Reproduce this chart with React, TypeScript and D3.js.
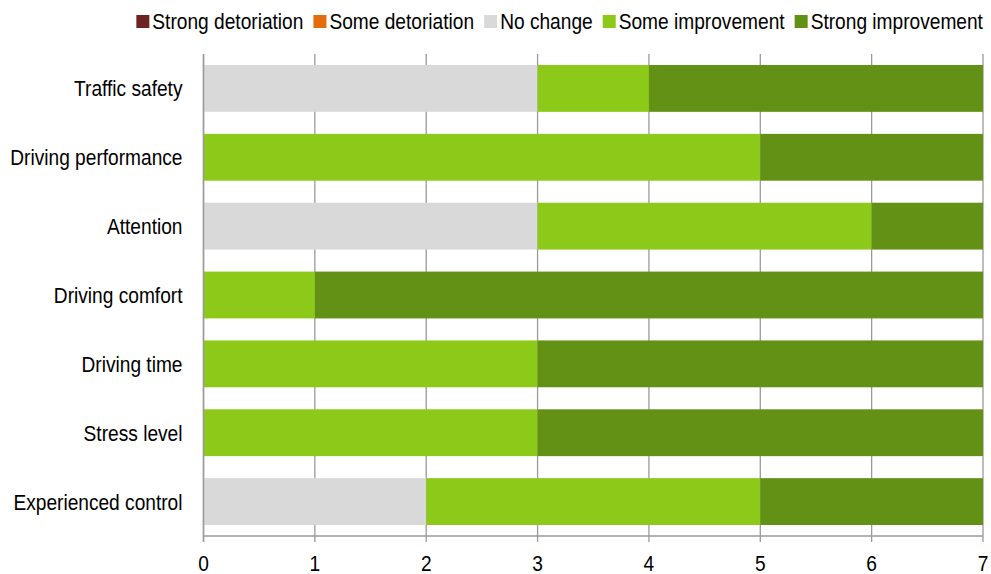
import React from "react";
import * as d3 from "d3";

const categories = [
  "Traffic safety",
  "Driving performance",
  "Attention",
  "Driving comfort",
  "Driving time",
  "Stress level",
  "Experienced control",
];
const seriesNames = [
  "Strong detoriation",
  "Some detoriation",
  "No change",
  "Some improvement",
  "Strong improvement",
];
const strongDet = [0, 0, 0, 0, 0, 0, 0];
const someDet = [0, 0, 0, 0, 0, 0, 0];
const noChange = [3, 0, 3, 0, 0, 0, 2];
const someImp = [1, 5, 3, 1, 3, 3, 3];
const strongImp = [3, 2, 1, 6, 4, 4, 2];
const xTicks = [0, 1, 2, 3, 4, 5, 6, 7];
const colors = ["#6e2323", "#e46c0a", "#d9d9d9", "#8cc919", "#629116"];

const W = 991;
const H = 574;
const FONT = "'Liberation Sans', Arial, sans-serif";
const FS = 22;
const SX = 0.87;

function measure(s: string): number {
  const c = document.createElement("canvas").getContext("2d");
  if (!c) return s.length * 9;
  c.font = `${FS}px 'Liberation Sans', Arial, sans-serif`;
  return c.measureText(s).width * SX;
}

function NText(props: { x: number; y: number; anchor?: string; children: any }) {
  const { x, y, anchor = "start", children } = props;
  return (
    <text
      transform={`translate(${x},${y}) scale(${SX},1)`}
      textAnchor={anchor}
      dominantBaseline="central"
      fontSize={FS}
      fill="#000"
    >
      {children}
    </text>
  );
}

export default function App() {
  const left = 203.5;
  const right = 983;
  const top = 54;
  const bottom = 536;
  const x = d3.scaleLinear().domain([0, 7]).range([left, right]);
  const y = d3
    .scaleBand<string>()
    .domain(categories)
    .range([top, bottom])
    .paddingInner(0.32)
    .paddingOuter(0.16);
  const seriesData = [strongDet, someDet, noChange, someImp, strongImp];
  const rows = categories.map((c, i) => {
    const o: any = { cat: c };
    seriesNames.forEach((s, k) => (o[s] = seriesData[k][i]));
    return o;
  });
  const stack = d3.stack<any>().keys(seriesNames)(rows);

  const sq = 13;
  const gapSqText = 3;
  const gapItems = 10;
  const widths = seriesNames.map(measure);
  let total = 0;
  widths.forEach((w, i) => {
    total += sq + gapSqText + w + (i < widths.length - 1 ? gapItems : 0);
  });
  let lx = right - total;
  const legendItems = seriesNames.map((s, i) => {
    const item = { name: s, color: colors[i], x: lx };
    lx += sq + gapSqText + widths[i] + gapItems;
    return item;
  });

  return (
    <svg width={W} height={H} style={{ position: "absolute", left: 0, top: 0 }} fontFamily={FONT}>
      <rect width={W} height={H} fill="#fff" />
      {xTicks.map((t) => (
        <line key={t} x1={x(t)} x2={x(t)} y1={top} y2={bottom + 6} stroke="#9a9a9a" strokeWidth={1.3} />
      ))}
      {stack.map((layer, k) => (
        <g key={k} fill={colors[k]}>
          {layer.map((d, i) =>
            d[1] - d[0] > 0 ? (
              <rect
                key={i}
                x={x(d[0])}
                y={y(categories[i])}
                width={x(d[1]) - x(d[0])}
                height={y.bandwidth()}
              />
            ) : null
          )}
        </g>
      ))}
      <line x1={left} x2={right} y1={bottom} y2={bottom} stroke="#9a9a9a" strokeWidth={1.5} />
      <line x1={left} x2={left} y1={top} y2={bottom + 6} stroke="#9a9a9a" strokeWidth={1.5} />
      {categories.map((c) => (
        <NText key={c} x={left - 21} y={(y(c) as number) + y.bandwidth() / 2} anchor="end">
          {c}
        </NText>
      ))}
      {xTicks.map((t) => (
        <NText key={t} x={x(t)} y={563} anchor="middle">
          {t}
        </NText>
      ))}
      {legendItems.map((it) => (
        <g key={it.name}>
          <rect x={it.x} y={15} width={sq} height={sq} fill={it.color} />
          <NText x={it.x + sq + gapSqText} y={21}>
            {it.name}
          </NText>
        </g>
      ))}
    </svg>
  );
}
